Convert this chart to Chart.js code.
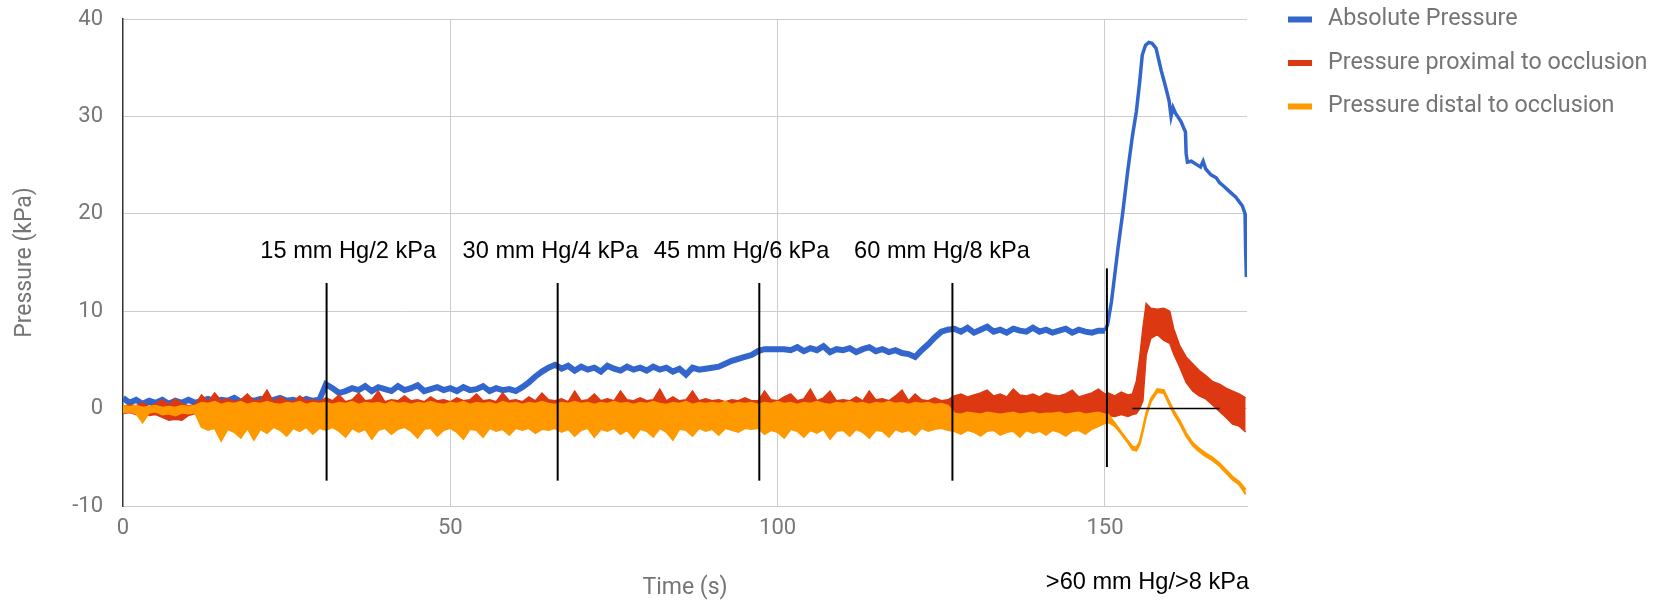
<!DOCTYPE html>
<html>
<head>
<meta charset="utf-8">
<title>Pressure during occlusion</title>
<script src="https://cdn.jsdelivr.net/npm/chart.js@4.4.1/dist/chart.umd.min.js"></script>
<style>
  html, body { margin: 0; padding: 0; background: #fff; }
  #wrap { width: 1662px; height: 602px; }
</style>
</head>
<body>
<div id="wrap"><canvas id="chart" width="1662" height="602"></canvas></div>
<script>
// series names as in the legend
const seriesNames = ['Absolute Pressure', 'Pressure proximal to occlusion', 'Pressure distal to occlusion'];

// values every second, index = time in s (0..150)
const absPressure = [
  1.1, 0.6, 0.9, 0.5, 0.8, 0.6, 0.9, 0.5, 0.8, 0.6,
  0.9, 0.6, 0.8, 1.0, 0.7, 0.9, 0.8, 1.1, 0.7, 0.9,
  0.8, 1.0, 0.7, 0.9, 1.1, 0.8, 0.9, 0.7, 1.0, 0.8,
  0.9, 2.5, 2.1, 1.6, 1.8, 2.1, 1.9, 2.3, 1.8, 2.2,
  2.0, 1.8, 2.3, 1.9, 2.1, 2.4, 1.8, 2.0, 2.2, 1.9,
  2.1, 1.8, 2.2, 1.9, 2.0, 2.3, 1.8, 2.1, 1.9, 2.0,
  1.8, 2.2, 2.7, 3.3, 3.8, 4.2, 4.5, 4.1, 4.4, 3.9,
  4.3, 4.0, 4.2, 3.8, 4.4, 4.1, 3.9, 4.3, 4.0, 4.2,
  3.9, 4.3, 4.0, 4.2, 3.8, 4.1, 3.5, 4.2, 4.0, 4.1,
  4.2, 4.3, 4.6, 4.9, 5.1, 5.3, 5.5, 5.9, 6.1, 6.1,
  6.1, 6.1, 6.0, 6.3, 5.9, 6.2, 6.0, 6.4, 5.8, 6.1,
  6.0, 6.2, 5.8, 6.1, 6.3, 5.9, 6.1, 5.8, 6.0, 5.7,
  5.6, 5.3, 6.0, 6.6, 7.3, 7.9, 8.1, 8.2, 7.9, 8.3,
  7.8, 8.1, 8.4, 7.9, 8.1, 7.8, 8.2, 8.0, 7.9, 8.3,
  7.9, 8.1, 7.8, 8.0, 8.2, 7.8, 8.1, 7.9, 7.8, 8.0,
  8.0
];
// proximal pressure: upper and lower edge of the noise band
const proxHigh = [
  0.2, 0.4, 0.3, 0.6, 0.2, 0.5, 0.9, 0.4, 1.0, 0.5,
  0.3, 0.4, 1.4, 0.7, 1.6, 0.8, 1.0, 0.7, 0.9, 1.5,
  0.8, 0.9, 1.9, 0.7, 1.2, 0.8, 0.7, 1.3, 0.8, 0.9,
  0.7, 1.1, 0.8, 1.4, 0.7, 0.9, 1.6, 0.8, 0.9, 1.8,
  0.7, 0.9, 0.8, 1.3, 0.8, 0.9, 0.7, 1.2, 0.8, 0.9,
  0.7, 1.1, 0.8, 0.9, 1.5, 0.8, 0.9, 0.7, 1.6, 0.8,
  0.9, 0.7, 1.2, 0.8, 1.6, 0.9, 0.8, 1.0, 0.7, 1.8,
  0.8, 0.9, 1.5, 0.8, 1.0, 0.8, 1.8, 0.9, 0.8, 1.1,
  0.8, 0.9, 2.0, 0.8, 1.2, 0.8, 0.9, 1.8, 0.8, 1.0,
  0.8, 0.9, 0.7, 0.9, 0.8, 1.1, 0.8, 0.8, 1.8, 0.9,
  0.8, 1.2, 1.5, 0.8, 1.0, 2.0, 0.8, 1.1, 1.8, 0.8,
  0.9, 0.8, 1.2, 0.8, 1.8, 0.9, 1.0, 0.8, 1.3, 1.9,
  0.8, 1.5, 0.9, 0.8, 1.1, 0.8, 0.9, 1.3, 1.5, 1.2,
  1.4, 1.6, 1.9, 1.3, 1.5, 1.2, 2.0, 1.4, 1.3, 1.5,
  1.2, 1.6, 1.4, 1.3, 1.5, 1.9, 1.2, 1.4, 1.6, 2.0,
  1.5
];
const proxLow = [
  -0.5, -0.4, -0.6, -0.5, -0.7, -0.6, -0.9, -1.2, -1.1, -1.2,
  -0.7, -0.5, -1.0, -1.0, -1.0, -1.0, -1.0, -1.0, -1.0, -1.0,
  -1.0, -1.0, -1.0, -1.0, -1.0, -1.0, -1.0, -1.0, -1.0, -1.0,
  -1.0, -1.0, -1.0, -1.0, -1.0, -1.0, -1.0, -1.0, -1.0, -1.0,
  -1.0, -1.0, -1.0, -1.0, -1.0, -1.0, -1.0, -1.0, -1.0, -1.0,
  -1.0, -1.0, -1.0, -1.0, -1.0, -1.0, -1.0, -1.0, -1.0, -1.0,
  -1.0, -1.0, -1.0, -1.0, -1.0, -1.0, -1.0, -1.0, -1.0, -1.0,
  -1.0, -1.0, -1.0, -1.0, -1.0, -1.0, -1.0, -1.0, -1.0, -1.0,
  -1.0, -1.0, -1.0, -1.0, -1.0, -1.0, -1.0, -1.0, -1.0, -1.0,
  -1.0, -1.0, -1.0, -1.0, -1.0, -1.0, -1.0, -1.0, -1.0, -1.0,
  -1.0, -1.0, -1.0, -1.0, -1.0, -1.0, -1.0, -1.0, -1.0, -1.0,
  -1.0, -1.0, -1.0, -1.0, -1.0, -1.0, -1.0, -1.0, -1.0, -1.0,
  -1.0, -1.0, -1.0, -1.0, -1.0, -1.0, -1.0, -1.0, -1.0, -1.0,
  -1.0, -1.0, -1.0, -1.0, -1.0, -1.0, -1.0, -1.0, -1.0, -1.0,
  -1.0, -1.0, -1.0, -1.0, -1.0, -1.0, -1.0, -1.0, -1.0, -1.0,
  -1.0
];
// distal pressure: upper and lower edge of the noise band
const distHigh = [
  0.3, 0.2, 0.3, 0.1, 0.2, 0.3, 0.1, 0.2, 0.1, 0.3,
  0.2, 0.3, 0.6, 0.5, 0.7, 0.4, 0.6, 0.5, 0.7, 0.4,
  0.6, 0.5, 0.7, 0.5, 0.4, 0.6, 0.5, 0.7, 0.4, 0.6,
  0.5, 0.6, 0.4, 0.6, 0.5, 0.7, 0.4, 0.6, 0.5, 0.6,
  0.4, 0.7, 0.5, 0.6, 0.4, 0.6, 0.5, 0.7, 0.5, 0.4,
  0.6, 0.5, 0.7, 0.4, 0.6, 0.5, 0.6, 0.4, 0.7, 0.5,
  0.6, 0.4, 0.6, 0.5, 0.7, 0.5, 0.4, 0.6, 0.5, 0.7,
  0.5, 0.6, 0.4, 0.6, 0.5, 0.7, 0.5, 0.6, 0.4, 0.6,
  0.5, 0.7, 0.5, 0.4, 0.6, 0.5, 0.7, 0.4, 0.6, 0.5,
  0.6, 0.5, 0.7, 0.4, 0.6, 0.5, 0.6, 0.4, 0.6, 0.5,
  0.7, 0.5, 0.6, 0.4, 0.6, 0.5, 0.7, 0.5, 0.4, 0.6,
  0.5, 0.7, 0.5, 0.6, 0.4, 0.6, 0.5, 0.7, 0.5, 0.6,
  0.4, 0.6, 0.5, 0.6, 0.4, 0.5, 0.3, -0.5, -0.6, -0.4,
  -0.5, -0.6, -0.4, -0.5, -0.6, -0.5, -0.4, -0.6, -0.5, -0.4,
  -0.6, -0.5, -0.5, -0.4, -0.6, -0.5, -0.4, -0.6, -0.5, -0.4,
  -0.6
];
const distLow = [
  -0.4, -0.3, -0.5, -1.4, -0.4, -0.3, -0.6, -0.5, -0.7, -0.4,
  -0.5, -0.4, -1.9, -2.2, -2.0, -3.3, -2.1, -2.4, -3.0, -2.0,
  -3.2, -2.1, -2.5, -1.9, -2.2, -2.8, -2.0, -2.3, -1.9, -2.6,
  -2.0, -2.2, -1.9, -2.3, -2.9, -2.0, -2.4, -2.1, -3.1, -2.2,
  -2.0, -2.6, -2.1, -1.9, -2.3, -3.0, -2.1, -2.0, -2.8, -2.2,
  -2.0, -2.4, -3.1, -2.1, -2.2, -2.9, -2.0, -2.3, -2.1, -2.7,
  -2.0, -2.2, -2.0, -2.5, -2.1, -2.2, -2.0, -2.4, -2.1, -2.8,
  -2.2, -2.0, -2.9, -2.1, -2.3, -2.0, -2.6, -2.2, -3.0, -2.1,
  -2.3, -2.9, -2.0, -2.4, -3.2, -2.1, -2.2, -2.8, -2.0, -2.3,
  -2.1, -2.7, -2.0, -2.2, -2.4, -2.0, -2.1, -2.0, -2.6, -2.2,
  -2.4, -3.0, -2.1, -2.3, -2.9, -2.2, -2.5, -2.1, -3.1, -2.3,
  -2.2, -2.8, -2.1, -2.4, -3.0, -2.2, -2.3, -2.9, -2.1, -2.4,
  -2.2, -2.7, -2.0, -2.3, -2.1, -2.0, -2.2, -2.3, -2.6, -2.2,
  -2.4, -2.8, -2.3, -2.2, -2.7, -2.4, -2.3, -2.9, -2.2, -2.5,
  -2.3, -2.7, -2.2, -2.4, -2.8, -2.3, -2.2, -2.6, -2.1, -1.8,
  -1.5
];

// after the last step (150 s on) the curves move fast, so uneven time points
const absTailSec = [150.4, 151, 152, 152.7, 153.5, 154.2, 154.8, 155.3, 155.7, 156.2,
  156.7, 157.2, 157.8, 158.6, 159.2, 159.8, 160.1, 160.4, 160.8, 161.6,
  162.3, 162.4, 162.6, 163.2, 163.9, 164.6, 165.0, 165.4, 166.2, 167.0,
  167.5, 168.2, 169.0, 170.0, 171.0, 171.4, 171.5, 171.6];
const absTail = [8.6, 11.0, 16.5, 20.0, 24.5, 28.0, 30.5, 33.5, 36.3, 37.3,
  37.6, 37.5, 37.0, 34.7, 33.2, 31.6, 30.0, 30.9, 30.3, 29.5,
  28.4, 26.2, 25.3, 25.4, 25.1, 24.8, 25.4, 24.6, 24.0, 23.7,
  23.2, 22.8, 22.3, 21.7, 20.8, 20.0, 16.0, 13.5];

const tailSec = [150.5, 151.5, 152.5, 153.5, 154.2, 154.8, 155.3, 155.8, 156.3, 157,
  158, 159, 159.9, 160.5, 161.4, 162.4, 163.4, 164.4, 165.4, 166.4,
  167.5, 168.5, 169.5, 170.5, 171.5];
const proxHighTail = [1.6, 1.3, 1.7, 1.4, 1.5, 2.8, 5.2, 8.3, 10.8, 10.3,
  10.2, 10.3, 10.0, 8.2, 6.5, 5.3, 4.6, 3.9, 3.4, 2.8,
  2.5, 2.1, 1.8, 1.5, 1.1];
const proxLowTail = [-0.7, -0.8, -0.6, -0.8, -0.6, -0.5, 0.0, 0.8, 5.5, 7.2,
  7.6, 7.0, 6.7, 5.6, 4.3, 2.7, 1.8, 1.3, 1.0, 0.4,
  -0.3, -0.9, -1.6, -1.8, -2.4];
const distHighTail = [-0.6, -1.5, -2.4, -3.3, -3.9, -4.0, -3.4, -2.0, -0.5, 1.0,
  2.0, 1.9, 0.6, -0.2, -1.2, -2.5, -3.5, -4.1, -4.6, -5.0,
  -5.6, -6.3, -7.0, -7.5, -8.3];
const distLowTail = [-1.4, -1.8, -2.6, -3.5, -4.2, -4.3, -3.7, -2.3, -0.8, 0.7,
  1.7, 1.6, 0.3, -0.5, -1.5, -2.8, -3.8, -4.4, -4.9, -5.3,
  -5.9, -6.6, -7.3, -7.8, -8.8];

// hand drawn markers on the chart (time in s, pressure in kPa)
const stepLabels = ['15 mm Hg/2 kPa', '30 mm Hg/4 kPa', '45 mm Hg/6 kPa', '60 mm Hg/8 kPa', '>60 mm Hg/>8 kPa'];
const stepLabelSec = [34.4, 65.3, 94.5, 125.1, 156.5];
const stepLabelKpa = [16.1, 16.1, 16.1, 16.1, -17.9];
const stepLineSec = [31.1, 66.4, 97.2, 126.7, 150.3];
const stepLineTop = [12.9, 12.9, 12.9, 12.9, 14.4];
const stepLineBottom = [-7.4, -7.4, -7.4, -7.4, -6.0];
const zeroLineSec = [154.2, 167.5];

const colors = ['#3366cc', '#dc3912', '#ff9900'];

// index = second, then the tail points
const toPoints = (vals, tailX, tailVals) =>
  vals.map((v, i) => ({ x: i, y: v })).concat(tailX.map((x, j) => ({ x: x, y: tailVals[j] })));

const lineBase = { pointRadius: 0, pointHoverRadius: 0, tension: 0, fill: false };

const datasets = [];
stepLineSec.forEach((x, i) => {
  datasets.push(Object.assign({}, lineBase, {
    label: '', order: 0, borderColor: '#000', borderWidth: 2,
    data: [{ x: x, y: stepLineBottom[i] }, { x: x, y: stepLineTop[i] }]
  }));
});
datasets.push(Object.assign({}, lineBase, {
  label: '', order: 0, borderColor: '#000', borderWidth: 1.5,
  data: zeroLineSec.map(x => ({ x: x, y: 0 }))
}));
datasets.push(Object.assign({}, lineBase, {
  label: seriesNames[2], order: 1, borderColor: colors[2], borderWidth: 2,
  data: toPoints(distHigh, tailSec, distHighTail)
}));
datasets.push(Object.assign({}, lineBase, {
  label: '', order: 1, borderColor: colors[2], backgroundColor: colors[2], borderWidth: 2, fill: '-1',
  data: toPoints(distLow, tailSec, distLowTail)
}));
datasets.push(Object.assign({}, lineBase, {
  label: seriesNames[1], order: 2, borderColor: colors[1], borderWidth: 1.5,
  data: toPoints(proxHigh, tailSec, proxHighTail)
}));
datasets.push(Object.assign({}, lineBase, {
  label: '', order: 2, borderColor: colors[1], backgroundColor: colors[1], borderWidth: 1.5, fill: '-1',
  data: toPoints(proxLow, tailSec, proxLowTail)
}));
datasets.push(Object.assign({}, lineBase, {
  label: seriesNames[0], order: 3, borderColor: colors[0], borderWidth: 3.5,
  // the noisy part before 150 s looks like a thick fuzzy trace
  segment: { borderWidth: c => (c.p0.parsed.x < 150 ? 6 : 3.5) },
  data: toPoints(absPressure, absTailSec, absTail)
}));

// text labels and the legend (legend sits further right than chart.js would put it)
const notesPlugin = {
  id: 'notes',
  afterDraw(chart) {
    const { ctx, chartArea } = chart;
    const xs = chart.scales.x, ys = chart.scales.y;
    ctx.save();
    ctx.fillStyle = '#000';
    ctx.font = '23.6px "Liberation Sans", Arial, sans-serif';
    ctx.textAlign = 'center';
    ctx.textBaseline = 'middle';
    stepLabels.forEach((t, i) => {
      ctx.fillText(t, xs.getPixelForValue(stepLabelSec[i]), ys.getPixelForValue(stepLabelKpa[i]));
    });

    ctx.font = '23.3px Roboto, sans-serif';
    ctx.textAlign = 'left';
    const left = chartArea.right + 41;
    seriesNames.forEach((name, i) => {
      const y = chartArea.top + 0.5 + i * 43.5;
      ctx.fillStyle = colors[i];
      ctx.fillRect(left, y - 3, 24, 6);
      ctx.fillStyle = '#757575';
      ctx.fillText(name, left + 40, y);
    });
    ctx.restore();
  }
};

const axisFont = { family: 'Roboto', size: 22 };
const titleFont = { family: 'Roboto', size: 23 };

new Chart(document.getElementById('chart'), {
  type: 'line',
  data: { datasets: datasets },
  options: {
    responsive: false,
    animation: false,
    events: [],
    layout: { padding: { top: 19, right: 415, bottom: 0, left: 0 } },
    plugins: { legend: { display: false }, tooltip: { enabled: false } },
    scales: {
      x: {
        type: 'linear', min: 0, max: 171.7,
        ticks: { stepSize: 50, includeBounds: false, font: axisFont, color: '#777', padding: 9, maxRotation: 0 },
        grid: { color: c => (c.tick && c.tick.value === 0) ? 'rgba(0,0,0,0)' : '#cccccc', drawTicks: false },
        border: { color: '#cccccc', width: 1 },
        title: { display: true, text: 'Time (s)', font: titleFont, color: '#757575', padding: { top: 0, bottom: 0 } },
        afterFit: s => { s.height = 96; }
      },
      y: {
        type: 'linear', min: -10, max: 40,
        ticks: { stepSize: 10, font: axisFont, color: '#777', padding: 20 },
        grid: { color: '#cccccc', drawTicks: false },
        border: { color: '#333', width: 1.5 },
        title: { display: true, text: 'Pressure (kPa)', font: titleFont, color: '#757575', padding: { top: 11, bottom: 0 } },
        // fixed axis width; the tick padding should not push the plot area down
        afterFit: s => { s.width = 123; s.paddingTop = 0; s.paddingBottom = 0; }
      }
    }
  },
  plugins: [notesPlugin]
});
</script>
</body>
</html>
